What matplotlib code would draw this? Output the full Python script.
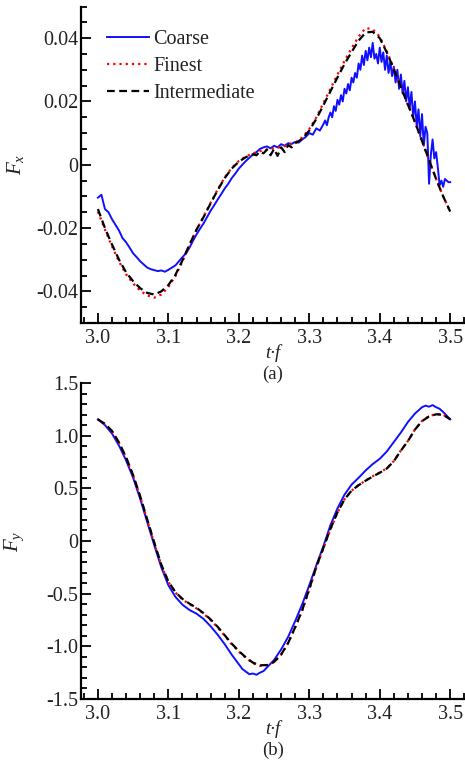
import matplotlib
matplotlib.use("Agg")
import matplotlib.pyplot as plt
from matplotlib.ticker import MultipleLocator

plt.rcParams['font.family'] = ['Liberation Serif', 'DejaVu Serif']
plt.rcParams['mathtext.fontset'] = 'custom'
plt.rcParams['mathtext.rm'] = 'Liberation Serif'
plt.rcParams['mathtext.it'] = 'Liberation Serif:italic'

# ---------------- data: panel (a) Fx ----------------
t_fine_a = [3.00, 3.01, 3.02, 3.03, 3.04, 3.05, 3.06, 3.07, 3.08, 3.09,
            3.10, 3.11, 3.12, 3.13, 3.14, 3.15, 3.16, 3.17, 3.18, 3.19,
            3.20, 3.21, 3.22, 3.23, 3.24, 3.25, 3.26, 3.27, 3.28, 3.29,
            3.30, 3.31, 3.32, 3.33, 3.34, 3.35, 3.36, 3.37, 3.38, 3.39,
            3.40, 3.41, 3.42, 3.43, 3.44, 3.45, 3.46, 3.47, 3.48, 3.49, 3.50]
fx_finest = [-0.0148, -0.0205, -0.0258, -0.0306, -0.0346, -0.0375, -0.0398, -0.0413, -0.0420, -0.0410,
             -0.0386, -0.0352, -0.0305, -0.0254, -0.0205, -0.0163, -0.0120, -0.0078, -0.0040, -0.0010,
             0.0012, 0.0026, 0.0036, 0.0043, 0.0048, 0.0052, 0.0056, 0.0062, 0.0070, 0.0086,
             0.0113, 0.0150, 0.0195, 0.0240, 0.0285, 0.0328, 0.0368, 0.0405, 0.0432, 0.0428,
             0.0405, 0.0358, 0.0305, 0.0247, 0.0190, 0.0135, 0.0075, 0.0015, -0.0045, -0.0100, -0.0148]

t_mid_a = [3.00, 3.01, 3.02, 3.03, 3.04, 3.05, 3.06, 3.07, 3.08, 3.09,
           3.10, 3.11, 3.12, 3.13, 3.14, 3.15, 3.16, 3.17, 3.18, 3.19,
           3.20, 3.21, 3.22, 3.225, 3.23, 3.235, 3.24, 3.245, 3.25, 3.255,
           3.26, 3.265, 3.27, 3.275, 3.28, 3.29,
           3.30, 3.31, 3.32, 3.33, 3.34, 3.35, 3.36, 3.37, 3.38, 3.39,
           3.40, 3.41, 3.42, 3.43, 3.44, 3.45, 3.46, 3.47, 3.48, 3.49, 3.50]
fx_intermediate = [-0.0140, -0.0200, -0.0252, -0.0300, -0.0340, -0.0368, -0.0390, -0.0405, -0.0410, -0.0400,
                   -0.0380, -0.0348, -0.0302, -0.0252, -0.0205, -0.0165, -0.0122, -0.0080, -0.0042, -0.0012,
                   0.0010, 0.0024, 0.0033, 0.0030, 0.0042, 0.0036, 0.0048, 0.0030, 0.0050, 0.0028,
                   0.0055, 0.0040, 0.0062, 0.0055, 0.0068, 0.0082,
                   0.0108, 0.0145, 0.0188, 0.0232, 0.0276, 0.0318, 0.0356, 0.0392, 0.0418, 0.0420,
                   0.0400, 0.0355, 0.0302, 0.0245, 0.0190, 0.0135, 0.0075, 0.0015, -0.0045, -0.0100, -0.0148]

t_coarse_a = [3.000, 3.005, 3.010, 3.015, 3.020, 3.025, 3.030, 3.035, 3.040, 3.045,
              3.050, 3.055, 3.060, 3.065, 3.070, 3.075, 3.080, 3.085, 3.090, 3.095,
              3.100, 3.105, 3.110, 3.115, 3.120, 3.125, 3.130, 3.135, 3.140, 3.145,
              3.150, 3.155, 3.160, 3.165, 3.170, 3.175, 3.180, 3.185, 3.190, 3.195,
              3.200, 3.205, 3.210, 3.215, 3.220, 3.225, 3.230, 3.235, 3.240, 3.245,
              3.250, 3.255, 3.260, 3.265, 3.270, 3.275, 3.280, 3.285, 3.290, 3.295,
              3.300, 3.305, 3.310, 3.315,
              3.3200, 3.3225, 3.3250, 3.3275, 3.3300, 3.3325, 3.3350, 3.3375, 3.3400, 3.3425,
              3.3450, 3.3475, 3.3500, 3.3525, 3.3550, 3.3575, 3.3600, 3.3625, 3.3650, 3.3675,
              3.3700, 3.3725, 3.3750, 3.3775, 3.3800, 3.3825, 3.3850, 3.3875, 3.3900, 3.3925,
              3.3950, 3.3975, 3.4000, 3.4025, 3.4050, 3.4075, 3.4100, 3.4125, 3.4150, 3.4175,
              3.4200, 3.4225, 3.4250, 3.4275, 3.4300, 3.4325, 3.4350, 3.4375, 3.4400, 3.4425,
              3.4450, 3.4475, 3.4500, 3.4525, 3.4550, 3.4575, 3.4600, 3.4625, 3.4650, 3.4675,
              3.4700, 3.4725, 3.4750, 3.4775, 3.4800, 3.4825, 3.4850, 3.4875, 3.4900, 3.4925,
              3.4950, 3.4975, 3.5000]
fx_coarse = [-0.0104, -0.0095, -0.0140, -0.0150, -0.0172, -0.0190, -0.0208, -0.0232, -0.0245, -0.0262,
             -0.0280, -0.0292, -0.0305, -0.0315, -0.0325, -0.0330, -0.0333, -0.0336, -0.0334, -0.0338,
             -0.0332, -0.0325, -0.0318, -0.0305, -0.0292, -0.0280, -0.0262, -0.0240, -0.0220, -0.0202,
             -0.0185, -0.0165, -0.0145, -0.0128, -0.0110, -0.0093, -0.0075, -0.0060, -0.0042, -0.0028,
             -0.0012, 0.0000, 0.0012, 0.0022, 0.0032, 0.0040, 0.0050, 0.0055, 0.0058, 0.0052,
             0.0060, 0.0055, 0.0065, 0.0060, 0.0068, 0.0066, 0.0072, 0.0070, 0.0080, 0.0088,
             0.0100, 0.0095, 0.0115, 0.0108,
             0.0128, 0.0140, 0.0125, 0.0150, 0.0165, 0.0150, 0.0185, 0.0170, 0.0205, 0.0190,
             0.0220, 0.0200, 0.0240, 0.0225, 0.0255, 0.0235, 0.0275, 0.0260, 0.0290, 0.0275,
             0.0320, 0.0300, 0.0345, 0.0315, 0.0360, 0.0330, 0.0370, 0.0340, 0.0385, 0.0335,
             0.0350, 0.0320, 0.0370, 0.0325, 0.0355, 0.0300, 0.0345, 0.0290, 0.0325, 0.0280,
             0.0310, 0.0260, 0.0300, 0.0240, 0.0285, 0.0225, 0.0265, 0.0200, 0.0245, 0.0180,
             0.0230, 0.0150, 0.0200, 0.0120, 0.0175, 0.0090, 0.0160, 0.0060, 0.0120, 0.0100,
             -0.0060, 0.0030, 0.0080, 0.0020, 0.0040, -0.0010, -0.0065, -0.0050, -0.0070, -0.0045,
             -0.0050, -0.0055, -0.0055]

# ---------------- data: panel (b) Fy ----------------
t_fine_b = t_fine_a
fy_finest = [1.155, 1.110, 1.040, 0.930, 0.790, 0.620, 0.420, 0.200, -0.020, -0.230,
             -0.390, -0.490, -0.555, -0.600, -0.640, -0.690, -0.750, -0.820, -0.900, -0.980,
             -1.050, -1.110, -1.160, -1.185, -1.180, -1.150, -1.080, -0.970, -0.820, -0.660,
             -0.460, -0.250, -0.070, 0.110, 0.270, 0.395, 0.478, 0.530, 0.575, 0.615,
             0.650, 0.690, 0.760, 0.860, 0.950, 1.060, 1.140, 1.185, 1.205, 1.200, 1.155]
fy_intermediate = [1.155, 1.112, 1.045, 0.935, 0.795, 0.625, 0.425, 0.205, -0.015, -0.225,
                   -0.385, -0.485, -0.550, -0.595, -0.635, -0.685, -0.745, -0.815, -0.895, -0.975,
                   -1.045, -1.105, -1.155, -1.180, -1.178, -1.148, -1.078, -0.968, -0.818, -0.655,
                   -0.455, -0.245, -0.065, 0.115, 0.272, 0.395, 0.478, 0.530, 0.573, 0.612,
                   0.648, 0.688, 0.758, 0.858, 0.948, 1.058, 1.138, 1.183, 1.203, 1.198, 1.155]

t_coarse_b = [3.00, 3.01, 3.02, 3.03, 3.04, 3.05, 3.06, 3.07, 3.08, 3.09,
              3.10, 3.11, 3.12, 3.13, 3.14, 3.15, 3.16, 3.17, 3.18, 3.19,
              3.20, 3.205, 3.21, 3.215, 3.22, 3.225, 3.23, 3.235, 3.24, 3.25,
              3.26, 3.27, 3.28, 3.29, 3.30, 3.31, 3.32, 3.33, 3.34, 3.35,
              3.36, 3.37, 3.38, 3.39, 3.40, 3.41, 3.42, 3.43, 3.44, 3.45,
              3.455, 3.46, 3.465, 3.47, 3.475, 3.48, 3.485, 3.49, 3.495, 3.50]
fy_coarse = [1.155, 1.100, 1.020, 0.905, 0.765, 0.600, 0.400, 0.180, -0.040, -0.250,
             -0.420, -0.530, -0.605, -0.655, -0.690, -0.740, -0.810, -0.890, -0.980, -1.080,
             -1.170, -1.215, -1.240, -1.265, -1.258, -1.270, -1.250, -1.235, -1.200, -1.130,
             -1.030, -0.910, -0.760, -0.600, -0.420, -0.230, -0.050, 0.150, 0.310, 0.440,
             0.535, 0.600, 0.670, 0.730, 0.780, 0.850, 0.940, 1.030, 1.130, 1.210,
             1.240, 1.270, 1.285, 1.275, 1.290, 1.270, 1.255, 1.225, 1.190, 1.155]

# ---------------- ticks / labels ----------------
xticks = [3.0, 3.1, 3.2, 3.3, 3.4, 3.5]
xtick_labels = ['3.0', '3.1', '3.2', '3.3', '3.4', '3.5']
yticks_a = [-0.04, -0.02, 0.0, 0.02, 0.04]
ytick_labels_a = ['-0.04', '-0.02', '0', '0.02', '0.04']
yticks_b = [-1.5, -1.0, -0.5, 0.0, 0.5, 1.0, 1.5]
ytick_labels_b = ['-1.5', '-1.0', '-0.5', '0', '0.5', '1.0', '1.5']
series_names = ['Coarse', 'Finest', 'Intermediate']

W, H = 465, 762
fig = plt.figure(figsize=(W / 100, H / 100), dpi=100)

left = 81 / W
width = 384 / W
ax_a = fig.add_axes([left, 1 - 323 / H, width, (323 - 6.5) / H])
ax_b = fig.add_axes([left, 1 - 699 / H, width, (699 - 383) / H])
ax_a.patch.set_facecolor('none')
ax_b.patch.set_facecolor('none')

blue = '#1010ff'
for ax, tc, yc, tf, yf, tm, ym, cap in [
    (ax_a, t_coarse_a, fx_coarse, t_fine_a, fx_finest, t_mid_a, fx_intermediate, '(a)'),
    (ax_b, t_coarse_b, fy_coarse, t_fine_b, fy_finest, t_fine_b, fy_intermediate, '(b)'),
]:
    ax.plot(tc, yc, color=blue, lw=1.4, label=series_names[0])
    ax.plot(tf, yf, color='#ff0000', lw=1.6, linestyle=(0, (1, 1.8)), label=series_names[1])
    ax.plot(tm, ym, color='black', lw=1.6, linestyle=(0, (3.5, 2)), label=series_names[2])

    ax.set_xlim(2.976, 3.521)
    ax.set_xticks(xticks, labels=xtick_labels)
    ax.xaxis.set_minor_locator(MultipleLocator(0.02))
    for s in ['top', 'right']:
        ax.spines[s].set_visible(False)
    for s in ['left', 'bottom']:
        ax.spines[s].set_linewidth(1.6)
    ax.tick_params(which='both', direction='in', top=False, right=False, width=1.3,
                   labelsize=14.5, labelcolor='#222222')
    ax.tick_params(which='major', length=7)
    ax.tick_params(which='minor', length=4)
    ax.tick_params(axis='y', pad=2)
    ax.tick_params(axis='x', pad=4)

    ax.set_xlabel('t·f', fontsize=13.5, style='italic', color='#222222')
    ax.xaxis.label.set_va('center')
    ax.xaxis.set_label_coords(0.5, -30 / 316.5)
    ax.text(0.5, -51.5 / 316.5, cap, transform=ax.transAxes, ha='center', va='center',
            fontsize=13.5, color='#222222')

ax_a.set_ylim(-0.05, 0.05)
ax_a.set_yticks(yticks_a, labels=ytick_labels_a)
ax_a.yaxis.set_minor_locator(MultipleLocator(0.005))
ax_a.set_ylabel(r'$F_x$', fontsize=15, color='#222222')
ax_a.yaxis.set_label_coords(-55 / 384, 0.5)

ax_b.set_ylim(-1.5, 1.5)
ax_b.set_yticks(yticks_b, labels=ytick_labels_b)
ax_b.yaxis.set_minor_locator(MultipleLocator(0.1))
ax_b.set_ylabel(r'$F_y$', fontsize=15, color='#222222')
ax_b.yaxis.set_label_coords(-55 / 384, 0.5)

ax_a.legend(loc='upper left', bbox_to_anchor=(0.068, 0.925), frameon=False,
            fontsize=14.5, handlelength=2.1, handletextpad=0.2, labelspacing=0.38,
            borderpad=0, borderaxespad=0, labelcolor='#222222')

fig.savefig('out.png', dpi=100)
